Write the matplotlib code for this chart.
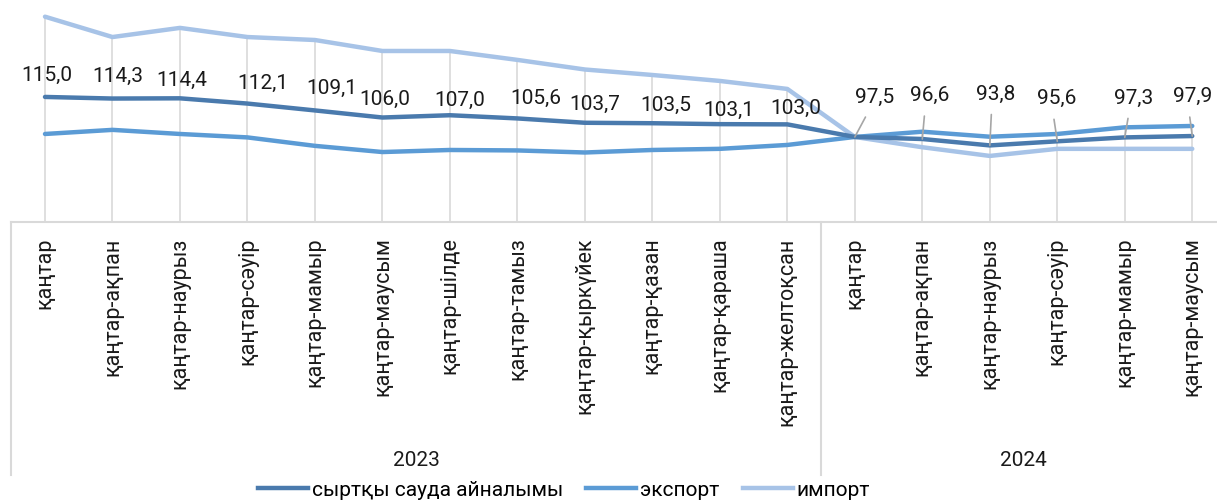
import numpy as np
import matplotlib
matplotlib.use("Agg")
import matplotlib.pyplot as plt
from matplotlib.transforms import blended_transform_factory
from matplotlib.lines import Line2D

plt.rcParams['font.family'] = ['Roboto', 'DejaVu Sans']

# data
months = ["қаңтар", "қаңтар-ақпан", "қаңтар-наурыз", "қаңтар-сәуір", "қаңтар-мамыр",
          "қаңтар-маусым", "қаңтар-шілде", "қаңтар-тамыз", "қаңтар-қыркүйек",
          "қаңтар-қазан", "қаңтар-қараша", "қаңтар-желтоқсан",
          "қаңтар", "қаңтар-ақпан", "қаңтар-наурыз", "қаңтар-сәуір", "қаңтар-мамыр",
          "қаңтар-маусым"]
years = ["2023", "2024"]
year_len = [12, 6]
turnover = [115.0, 114.3, 114.4, 112.1, 109.1, 106.0, 107.0, 105.6, 103.7, 103.5, 103.1, 103.0,
            97.5, 96.6, 93.8, 95.6, 97.3, 97.9]
export = [98.8, 100.6, 98.8, 97.3, 93.6, 90.9, 91.8, 91.6, 90.7, 91.8, 92.3, 94.0,
          97.5, 99.8, 97.6, 98.8, 101.7, 102.3]
imports = [150.1, 141.2, 145.2, 141.2, 139.9, 135.1, 135.1, 131.2, 127.0, 124.6, 122.0, 118.5,
           97.5, 93.0, 89.2, 92.3, 92.3, 92.3]
names = ["сыртқы сауда айналымы", "экспорт", "импорт"]

# styling
c_turn, c_exp, c_imp = "#4a7aad", "#5b9bd5", "#a7c3e7"
grid_c = "#d9d9d9"
W, H = 1217, 500
# label offsets in px (dx, dy up)
lab_off = [(2, 22), (5, 22), (2, 18), (15, 20), (17, 22), (2, 18), (10, 15), (18, 20),
           (10, 18), (13, 18), (9, 14), (8, 16),
           (20, 30), (7, 34), (6, 42), (-1, 33), (9, 30), (0, 30)]

fig = plt.figure(figsize=(W / 100, H / 100), dpi=100)
# plot area spans pixel x 11..1226, y 0..222 (from top)
ax = fig.add_axes([11.25 / W, (H - 222) / H, (1226 - 11.25) / W, 222 / H])
x = np.arange(len(months))
ax.set_xlim(-0.5, len(months) - 0.5)
ax.set_ylim(60.3, 157.4)

top = np.maximum.reduce([np.array(turnover), np.array(export), np.array(imports)])
ax.vlines(x, 60.3, top, color=grid_c, lw=1.2, zorder=1)

ax.plot(x, imports, color=c_imp, lw=3.2, solid_capstyle="round", zorder=3)
ax.plot(x, export, color=c_exp, lw=3.2, solid_capstyle="round", zorder=4)
ax.plot(x, turnover, color=c_turn, lw=3.2, solid_capstyle="round", zorder=5)

for i, v in enumerate(turnover):
    dx, dy = lab_off[i]
    txt = "{:.1f}".format(v).replace(".", ",")
    if i >= 12:
        ax.annotate(txt, (i, v), xytext=(dx * 0.72, dy * 0.72), textcoords="offset points",
                    ha="center", va="bottom", fontsize=15, color="#1a1a1a", zorder=6,
                    arrowprops=dict(arrowstyle="-", color="#a6a6a6", lw=1.2,
                                    relpos=(0.4, 0), shrinkA=6, shrinkB=0))
    else:
        ax.annotate(txt, (i, v), xytext=(dx * 0.72, dy * 0.72), textcoords="offset points",
                    ha="center", va="center", fontsize=15, color="#1a1a1a", zorder=6)

for s in ["top", "left", "right"]:
    ax.spines[s].set_visible(False)
ax.spines["bottom"].set_color(grid_c)
ax.spines["bottom"].set_linewidth(1.5)
ax.set_yticks([])
ax.set_xticks(x)
ax.set_xticklabels(months, rotation=90, fontsize=15.5, color="#1a1a1a")
ax.tick_params(axis="x", length=0, pad=11)

# year groups and separators
tr = blended_transform_factory(ax.transData, fig.transFigure)
start = 0
for yr, n in zip(years, year_len):
    ax.add_line(Line2D([start - 0.5, start - 0.5], [(H - 222) / H, (H - 475) / H],
                       transform=tr, color=grid_c, lw=1.5, clip_on=False))
    fig.text((start + (n - 1) / 2), (H - 461) / H, yr, transform=tr, ha="center", va="center",
             fontsize=15, color="#1a1a1a")
    start += n
ax.add_line(Line2D([start - 0.5, start - 0.5], [(H - 222) / H, (H - 475) / H],
                   transform=tr, color=grid_c, lw=1.5, clip_on=False))

handles = [Line2D([], [], color=c, lw=3.2) for c in (c_turn, c_exp, c_imp)]
fig.legend(handles, names, loc="center left", bbox_to_anchor=(258 / W, (H - 490) / H), ncol=3,
           frameon=False, fontsize=15, handlelength=2.4, handletextpad=0.2, columnspacing=1.1,
           borderpad=0, borderaxespad=0)

fig.savefig("out.png", dpi=100)
